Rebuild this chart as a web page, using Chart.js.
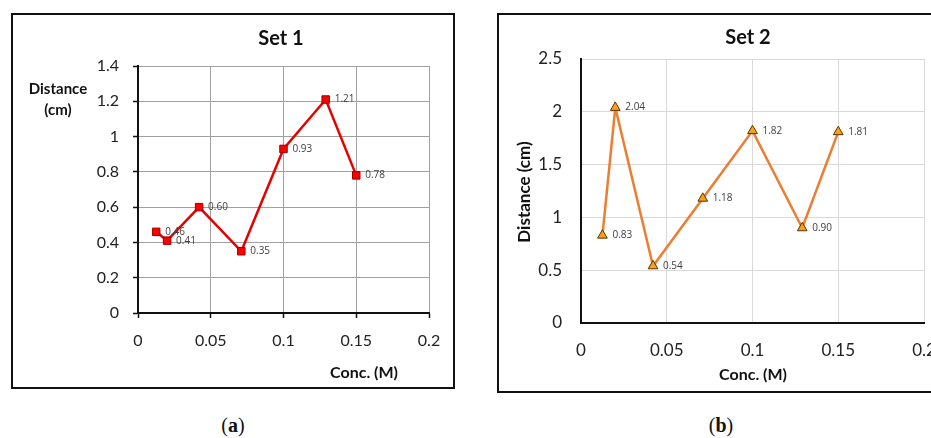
<!DOCTYPE html>
<html>
<head>
<meta charset="utf-8">
<script src="https://cdn.jsdelivr.net/npm/chart.js@4.4.1/dist/chart.umd.min.js"></script>
<style>
html, body { margin: 0; padding: 0; background: #fff; overflow: hidden; width: 931px; height: 438px; }
.panel { position: absolute; border: 2px solid #111; background: #fff; }
#p1 { left: 11px; top: 13px; width: 440px; height: 372px; }
#p2 { left: 497px; top: 13px; width: 440px; height: 376px; }
canvas { display: block; }
.cap { position: absolute; top: 413px; line-height: 24px; font-family: "Liberation Serif", serif; font-size: 20px; color: #111; transform: translateX(-50%); }
</style>
</head>
<body>
<div class="panel" id="p1"><canvas id="c1" width="440" height="372"></canvas></div>
<div class="panel" id="p2"><canvas id="c2" width="440" height="376"></canvas></div>
<div class="cap" style="left:233px">(<b>a</b>)</div>
<div class="cap" style="left:721px">(<b>b</b>)</div>
<script>
// concentrations (M), same for both sets
var conc = [0.0125, 0.02, 0.042, 0.071, 0.1, 0.129, 0.15];
var set1Dist = [0.46, 0.41, 0.60, 0.35, 0.93, 1.21, 0.78];
var set2Dist = [0.83, 2.04, 0.54, 1.18, 1.82, 0.90, 1.81];

var xTicks = [0, 0.05, 0.1, 0.15, 0.2];
var set1Ticks = [0, 0.2, 0.4, 0.6, 0.8, 1, 1.2, 1.4];
var set2Ticks = [0, 0.5, 1, 1.5, 2, 2.5];

Chart.defaults.font.family = 'Lato';

function points(ys) {
    return conc.map(function (x, i) { return { x: x, y: ys[i] }; });
}
function useTicks(arr) {
    return function (scale) {
        scale.ticks = arr.map(function (v) { return { value: v }; });
    };
}
function fixWidth(w) {
    return function (scale) { scale.width = w; scale.paddingTop = 0; scale.paddingBottom = 0; };
}
function fixHeight(h) {
    return function (scale) { scale.height = h; scale.paddingLeft = 0; scale.paddingRight = 0; };
}
function fmt(v) { return String(v); }

// number next to every marker
var valueLabels = {
    id: 'valueLabels',
    afterDatasetsDraw: function (chart, args, opts) {
        var ctx = chart.ctx;
        var ds = chart.data.datasets[0];
        ctx.save();
        ctx.font = opts.font;
        ctx.fillStyle = opts.color;
        ctx.textAlign = 'left';
        ctx.textBaseline = 'middle';
        chart.getDatasetMeta(0).data.forEach(function (pt, i) {
            ctx.fillText(ds.data[i].y.toFixed(2), pt.x + opts.dx, pt.y);
        });
        ctx.restore();
    }
};

// titles and axis names
var panelText = {
    id: 'panelText',
    afterDraw: function (chart, args, opts) {
        var ctx = chart.ctx;
        opts.items.forEach(function (t) {
            ctx.save();
            ctx.font = t.font;
            ctx.fillStyle = '#111';
            ctx.textAlign = 'center';
            ctx.textBaseline = 'middle';
            ctx.translate(t.x, t.y);
            if (t.rotate) ctx.rotate(t.rotate);
            ctx.fillText(t.text, 0, 0);
            ctx.restore();
        });
    }
};

new Chart(document.getElementById('c1'), {
    type: 'scatter',
    data: {
        datasets: [{
            data: points(set1Dist),
            showLine: true,
            borderColor: '#e60000',
            borderWidth: 2.5,
            pointStyle: 'rect',
            pointRadius: 5.3,
            pointBackgroundColor: '#ff0000',
            pointBorderColor: '#9a0000',
            pointBorderWidth: 1
        }]
    },
    options: {
        responsive: false,
        animation: false,
        events: [],
        layout: { padding: { left: 65, right: 24, top: 51, bottom: 34 } },
        plugins: {
            legend: { display: false },
            tooltip: { enabled: false },
            valueLabels: { font: '10px "Open Sans"', color: '#404040', dx: 9 },
            panelText: {
                items: [
                    { text: 'Set 1', x: 268, y: 24, font: 'bold 20px Lato' },
                    { text: 'Distance', x: 45, y: 74, font: 'bold 15px Lato' },
                    { text: '(cm)', x: 45, y: 95, font: 'bold 15px Lato' },
                    { text: 'Conc. (M)', x: 351, y: 358, font: 'bold 16px Lato' }
                ]
            }
        },
        scales: {
            x: {
                type: 'linear', min: 0, max: 0.2,
                afterBuildTicks: useTicks(xTicks),
                afterFit: fixHeight(40),
                grid: { color: '#a0a0a0', lineWidth: 1, tickLength: 5, tickColor: '#111', tickWidth: 1.5 },
                border: { color: '#111', width: 2 },
                ticks: { padding: 13, font: { size: 16 }, color: '#222', callback: fmt }
            },
            y: {
                type: 'linear', min: 0, max: 1.4,
                afterBuildTicks: useTicks(set1Ticks),
                afterFit: fixWidth(60),
                grid: { color: '#a0a0a0', lineWidth: 1, tickLength: 5, tickColor: '#111', tickWidth: 1.5 },
                border: { color: '#111', width: 2 },
                ticks: { padding: 14, font: { size: 16 }, color: '#222', callback: fmt }
            }
        }
    },
    plugins: [valueLabels, panelText]
});

new Chart(document.getElementById('c2'), {
    type: 'scatter',
    data: {
        datasets: [{
            data: points(set2Dist),
            showLine: true,
            borderColor: '#ed7d31',
            borderWidth: 2.5,
            pointStyle: 'triangle',
            pointRadius: 5.6,
            pointBackgroundColor: '#f7a01c',
            pointBorderColor: '#5a3500',
            pointBorderWidth: 1
        }]
    },
    options: {
        responsive: false,
        animation: false,
        events: [],
        layout: { padding: { left: 30, right: 15, top: 44, bottom: 28 } },
        plugins: {
            legend: { display: false },
            tooltip: { enabled: false },
            valueLabels: { font: '10px "Open Sans"', color: '#404040', dx: 10 },
            panelText: {
                items: [
                    { text: 'Set 2', x: 249, y: 23, font: 'bold 20px Lato' },
                    { text: 'Distance (cm)', x: 26, y: 177, font: 'bold 17px Lato', rotate: -Math.PI / 2 },
                    { text: 'Conc. (M)', x: 254, y: 360, font: 'bold 16px Lato' }
                ]
            }
        },
        scales: {
            x: {
                type: 'linear', min: 0, max: 0.2,
                afterBuildTicks: useTicks(xTicks),
                afterFit: fixHeight(40),
                grid: { color: '#d9d9d9', lineWidth: 1, drawTicks: false },
                border: { color: '#111', width: 2 },
                ticks: { padding: 17, font: { size: 17 }, color: '#222', callback: fmt }
            },
            y: {
                type: 'linear', min: 0, max: 2.5,
                afterBuildTicks: useTicks(set2Ticks),
                afterFit: fixWidth(52),
                grid: { color: '#d9d9d9', lineWidth: 1, drawTicks: false },
                border: { color: '#111', width: 2 },
                ticks: { padding: 19, font: { size: 17 }, color: '#222', callback: fmt }
            }
        }
    },
    plugins: [valueLabels, panelText]
});
</script>
</body>
</html>
